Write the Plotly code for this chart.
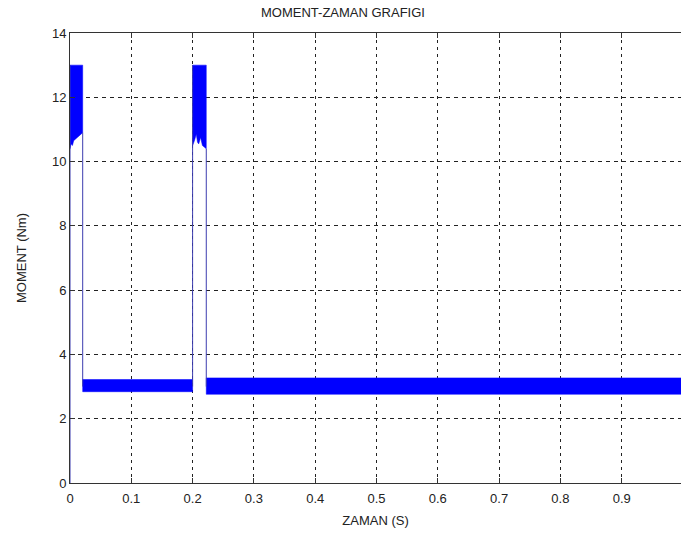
import plotly.graph_objects as go

# ---- data ----
x_ticks = [0, 0.1, 0.2, 0.3, 0.4, 0.5, 0.6, 0.7, 0.8, 0.9]
x_tick_labels = ["0", "0.1", "0.2", "0.3", "0.4", "0.5", "0.6", "0.7", "0.8", "0.9"]
y_ticks = [0, 2, 4, 6, 8, 10, 12, 14]
y_tick_labels = ["0", "2", "4", "6", "8", "10", "12", "14"]

# oscillation envelope of the torque signal (time segments)
band_t_start = [0.0, 0.0207, 0.2, 0.2223]
band_t_end = [0.0207, 0.2, 0.2223, 1.0]
band_top = [13.0, 3.22, 13.0, 3.27]
band_bottom = [10.6, 2.84, 10.5, 2.76]

# jagged lower edges of the two high-torque bands
hi1_lower_t = [0.0, 0.002, 0.004, 0.006, 0.009, 0.012, 0.015, 0.018, 0.0207]
hi1_lower_y = [10.4, 10.55, 10.5, 10.65, 10.7, 10.75, 10.8, 10.85, 10.9]
hi2_lower_t = [0.2, 0.203, 0.206, 0.208, 0.210, 0.213, 0.216, 0.219, 0.2223]
hi2_lower_y = [10.5, 10.65, 10.85, 10.6, 10.55, 10.75, 10.5, 10.45, 10.4]

# thin connecting transitions of the signal
step_t = [0.0, 0.0, None, 0.0207, 0.0207, None, 0.2, 0.2, None, 0.2223, 0.2223]
step_y = [0.0, 13.0, None, 10.9, 3.0, None, 3.0, 13.0, None, 10.4, 3.0]

BLUE = "#0000ff"
fig = go.Figure()

for i in range(len(band_t_start)):
    t0, t1 = band_t_start[i], band_t_end[i]
    if i == 0:
        lx, ly = hi1_lower_t, hi1_lower_y
    elif i == 2:
        lx, ly = hi2_lower_t, hi2_lower_y
    else:
        lx, ly = [t0, t1], [band_bottom[i], band_bottom[i]]
    xs = [t0, t1] + lx[::-1] + [t0]
    ys = [band_top[i], band_top[i]] + ly[::-1] + [band_top[i]]
    fig.add_trace(go.Scatter(x=xs, y=ys, mode="lines", fill="toself",
                             fillcolor=BLUE, line=dict(color=BLUE, width=0.5),
                             hoverinfo="skip", showlegend=False))

fig.add_trace(go.Scatter(x=step_t, y=step_y, mode="lines",
                         line=dict(color="rgb(60,60,175)", width=1),
                         showlegend=False, connectgaps=False))

W, H = 681, 537
L, T, B = 70, 33, 54
x_right = (W - L) / 613.0  # plot continues past the picture's right edge

fig.update_layout(
    width=W, height=H,
    margin=dict(l=L, r=0, t=T, b=B),
    paper_bgcolor="white", plot_bgcolor="white",
    font=dict(family="Liberation Sans, Arial, sans-serif", size=13, color="#222"),
    title=dict(text="MOMENT-ZAMAN GRAFIGI", x=343 / W, xref="container",
               xanchor="center", y=1 - 12 / H, yanchor="middle",
               font=dict(size=13, color="#222")),
    xaxis=dict(range=[0, x_right], tickvals=x_ticks, ticktext=x_tick_labels,
               showgrid=True, gridcolor="#222", griddash="3px,4px", gridwidth=1,
               zeroline=False, showline=True, linecolor="#333", linewidth=1,
               mirror="ticks", ticks="inside", ticklen=5, tickcolor="#333",
               ticklabelstandoff=3,
               title=dict(text="ZAMAN (S)", standoff=11, font=dict(size=13))),
    yaxis=dict(range=[0, 14], tickvals=y_ticks, ticktext=y_tick_labels,
               showgrid=True, gridcolor="#222", griddash="4px,4px", gridwidth=1,
               zeroline=False, showline=True, linecolor="#333", linewidth=1,
               ticks="inside", ticklen=5, tickcolor="#333",
               title=dict(text="MOMENT (Nm)", standoff=22, font=dict(size=13))),
)

fig.write_html("out.html")
